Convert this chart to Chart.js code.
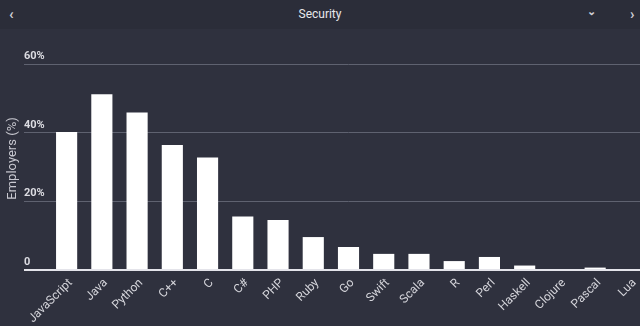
<!DOCTYPE html>
<html>
<head>
<meta charset="utf-8">
<script src="https://cdn.jsdelivr.net/npm/chart.js@4"></script>
<style>
  html, body { margin: 0; padding: 0; background: #2f313e; overflow: hidden; }
  body { width: 640px; height: 326px; position: relative; font-family: Roboto, "Liberation Sans", sans-serif; }
  #header {
    position: absolute; left: 0; top: 0; width: 640px; height: 29px;
    background: #2b2d39; color: #e8e8ec; font-size: 12px;
    text-align: center; line-height: 28px; z-index: 2;
  }
  #header .nav { position: absolute; top: 0; color: #d0d0d8; font-size: 15px; font-weight: bold; }
  #wrap { position: absolute; left: 0; top: 0; width: 648px; height: 326px; }
</style>
</head>
<body>
<div id="header">
  <span class="nav" style="left:9px">&#8249;</span>
  Security
  <span class="nav" style="left:587px;font-size:11px;top:-2px">&#8964;</span>
  <span class="nav" style="left:630px">&#8250;</span>
</div>
<div id="wrap"><canvas id="securityChart"></canvas></div>
<script>
// Languages wanted by security employers
const languages = ['JavaScript', 'Java', 'Python', 'C++', 'C', 'C#', 'PHP', 'Ruby', 'Go',
    'Swift', 'Scala', 'R', 'Perl', 'Haskell', 'Clojure', 'Pascal', 'Lua'];
const employerShare = [40.2, 51.2, 45.9, 36.4, 32.8, 15.6, 14.6, 9.6, 6.7,
    4.7, 4.7, 2.6, 3.8, 1.3, 0, 0.7, 0];
const yTicks = [0, 20, 40, 60];

const ctx = document.getElementById('securityChart');

new Chart(ctx, {
    type: 'bar',
    data: {
        labels: languages,
        datasets: [{
            label: 'Employers (%)',
            data: employerShare,
            backgroundColor: '#ffffff',
            borderWidth: 0,
            barPercentage: 0.6,
            categoryPercentage: 1
        }]
    },
    options: {
        responsive: true,
        maintainAspectRatio: false,
        animation: false,
        layout: { padding: { top: 47, right: 0, bottom: 0, left: 0 } },
        plugins: {
            legend: { display: false },
            tooltip: { enabled: false }
        },
        scales: {
            x: {
                grid: { display: false },
                border: { display: false },
                ticks: {
                    color: '#d4d4da',
                    font: { family: 'Roboto', size: 12 },
                    minRotation: 45,
                    maxRotation: 45,
                    padding: -2,
                    labelOffset: 4,
                    autoSkip: false
                },
                afterFit: function(scale) { scale.height = 56; }
            },
            y: {
                min: 0,
                max: 65,
                afterBuildTicks: function(scale) {
                    scale.ticks = yTicks.map(v => ({ value: v }));
                },
                border: { display: false },
                grid: {
                    color: ctx => ctx.tick && ctx.tick.value === 0 ? '#e4e4ea' : '#5f6270',
                    lineWidth: ctx => ctx.tick && ctx.tick.value === 0 ? 2 : 1,
                    tickLength: 25,
                    drawTicks: true
                },
                ticks: {
                    mirror: true,
                    padding: -25,
                    labelOffset: -8,
                    color: '#dcdce2',
                    font: { family: 'Roboto', size: 11, weight: 'bold' },
                    callback: v => v === 0 ? '0' : v + '%'
                },
                title: {
                    display: true,
                    text: 'Employers (%)',
                    color: '#c8c8d0',
                    font: { family: 'Roboto', size: 13 },
                    padding: { top: 5, bottom: 0 }
                },
                afterFit: function(scale) { scale.width = 49; }
            }
        }
    }
});
</script>
</body>
</html>
